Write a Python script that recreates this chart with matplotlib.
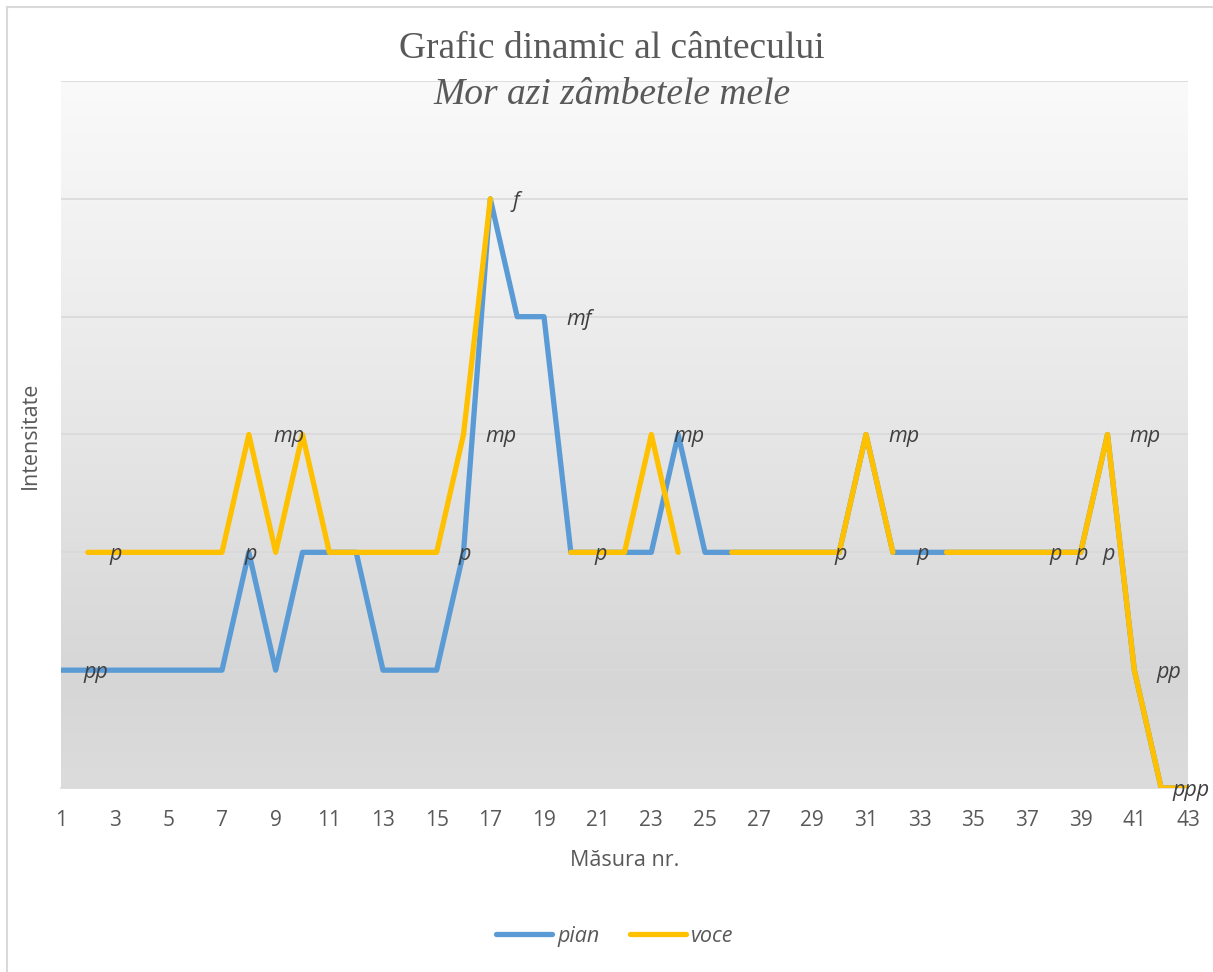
import numpy as np
import matplotlib
matplotlib.use("Agg")
import matplotlib.pyplot as plt
from matplotlib.lines import Line2D
from matplotlib.colors import LinearSegmentedColormap

nan = np.nan
measures = list(range(1, 44))
pian = [1, 1, 1, 1, 1, 1, 1, 2, 1, 2, 2, 2, 1, 1, 1, 2, 5, 4, 4, 2,
        2, 2, 2, 3, 2, 2, 2, 2, 2, 2, 3, 2, 2, 2, 2, 2, 2, 2, 2, 3,
        1, 0, 0]
voce = [nan, 2, 2, 2, 2, 2, 2, 3, 2, 3, 2, 2, 2, 2, 2, 3, 5, nan, nan, 2,
        2, 2, 3, 2, nan, 2, 2, 2, 2, 2, 3, 2, nan, 2, 2, 2, 2, 2, 2, 3,
        1, 0, 0]
xticks = list(range(1, 44, 2))
# dynamic labels: (text, x, level)
labels = [("pp", 2.3, 1), ("p", 3.05, 2), ("p", 8.05, 2), ("mp", 9.5, 3),
          ("f", 17.95, 5), ("mf", 20.3, 4), ("mp", 17.4, 3), ("p", 16.05, 2),
          ("p", 21.1, 2), ("mp", 24.4, 3), ("mp", 32.4, 3), ("p", 30.05, 2),
          ("p", 33.1, 2), ("p", 38.05, 2), ("p", 39.05, 2), ("p", 40.05, 2),
          ("mp", 41.4, 3), ("pp", 42.3, 1), ("ppp", 43.1, 0)]

W, H = 1213, 972
fig = plt.figure(figsize=(W / 100, H / 100), dpi=100)
fig.patch.set_facecolor("white")

left, right, top, bottom = 61, 1188, 81, 788
ax = fig.add_axes([left / W, 1 - bottom / H, (right - left) / W, (bottom - top) / H])

# gradient background (light at top, darker toward bottom)
cmap = LinearSegmentedColormap.from_list(
    "bg", [(0.0, "#fafafa"), (0.5, "#e6e6e6"), (0.85, "#d6d6d6"), (1.0, "#dcdcdc")])
grad = np.linspace(0, 1, 256).reshape(-1, 1)
ax.imshow(grad, cmap=cmap, aspect="auto", extent=[1, 43, 0, 6], origin="upper",
          zorder=0, interpolation="bicubic")
ax.set_xlim(1, 43)
ax.set_ylim(0, 6)

for yv in range(1, 7):
    ax.axhline(yv, color="#d9d9d9", lw=1.2, zorder=1)

ax.plot(measures, pian, color="#5B9BD5", lw=3.8, solid_capstyle="round",
        solid_joinstyle="round", zorder=3)
ax.plot(measures, voce, color="#FFC000", lw=3.8, solid_capstyle="round",
        solid_joinstyle="round", zorder=4)

lab_font = "Open Sans"
for txt, xv, lv in labels:
    ax.text(xv, lv - 0.02, txt, fontsize=15.5, style="italic", color="#404040",
            ha="center", va="center", family=lab_font, zorder=5, clip_on=False)

for s in ["top", "right", "left"]:
    ax.spines[s].set_visible(False)
ax.spines["bottom"].set_color("#d9d9d9")
ax.spines["bottom"].set_linewidth(1.2)
ax.set_yticks([])
ax.set_xticks(xticks)
ax.set_xticklabels([str(t) for t in xticks], fontsize=15, color="#595959",
                   family=lab_font)
ax.tick_params(axis="x", length=0, pad=16)

fig.text(625 / W, 1 - 860 / H, "Măsura nr.", ha="center", va="center",
         fontsize=15.5, color="#595959", family=lab_font)
fig.text(30 / W, 1 - 435 / H, "Intensitate", ha="center", va="center",
         rotation=90, fontsize=15.5, color="#595959", family=lab_font)

fig.text(612 / W, 1 - 49 / H, "Grafic dinamic al cântecului", ha="center",
         va="center", fontsize=27, color="#595959", family="Liberation Serif")
fig.text(612 / W, 1 - 95 / H, "Mor azi zâmbetele mele", ha="center",
         va="center", fontsize=27, color="#595959", family="Liberation Serif",
         style="italic")

# chart border (left & top)
fig.add_artist(Line2D([7 / W, 7 / W], [0, 1 - 7 / H], transform=fig.transFigure,
                      color="#d9d9d9", lw=1.5))
fig.add_artist(Line2D([7 / W, 1], [1 - 7 / H, 1 - 7 / H], transform=fig.transFigure,
                      color="#d9d9d9", lw=1.5))

handles = [Line2D([], [], color="#5B9BD5", lw=3.8, solid_capstyle="round"),
           Line2D([], [], color="#FFC000", lw=3.8, solid_capstyle="round")]
leg = fig.legend(handles, ["pian", "voce"], loc="center",
                 bbox_to_anchor=(615 / W, 1 - 936 / H), ncol=2, frameon=False,
                 handlelength=2.6, handletextpad=0.25, columnspacing=1.4,
                 prop={"family": lab_font, "style": "italic", "size": 15.5})
for t in leg.get_texts():
    t.set_color("#595959")

fig.savefig("out.png", dpi=100)
